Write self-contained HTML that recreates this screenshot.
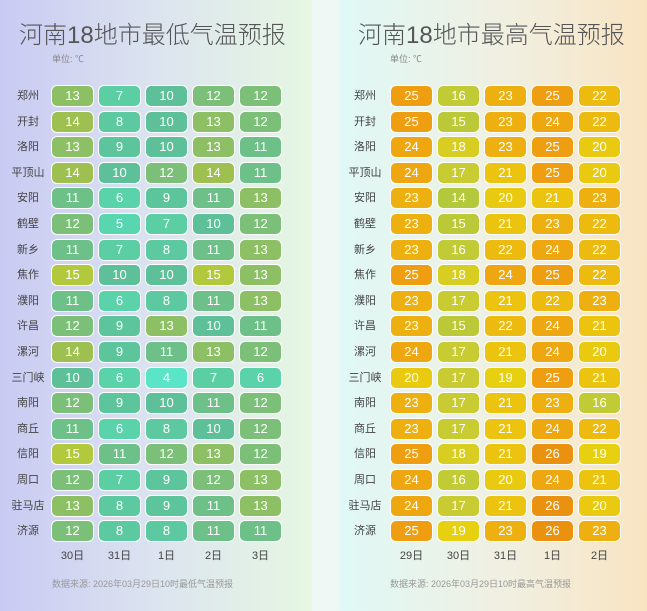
<!DOCTYPE html>
<html><head><meta charset="utf-8"><style>
html,body{margin:0;padding:0}
body{width:647px;height:611px;position:relative;overflow:hidden;font-family:"Liberation Sans","Noto Sans CJK SC",sans-serif}
.panel{position:absolute;top:0;height:611px}
#left{left:0;width:312px;background:linear-gradient(90deg,#c9caf3 0%,#dce4ef 50%,#e6f7e2 100%)}
#right{left:312px;width:335px;background:linear-gradient(90deg,#f0f8f5 0px,#f0f8f5 24px,#e0f8f6 30px,#f1efe0 60%,#f9e4c2 100%)}
.title{position:absolute;top:15px;font-size:24px;color:#555;white-space:nowrap;font-weight:300}
.unit{position:absolute;top:52px;font-size:9px;color:#888}
.cell{position:absolute;width:41px;height:20px;border:1.5px solid #fff;border-radius:6px;color:#fff;font-size:13px;line-height:20px;text-align:center}
.lab{position:absolute;font-size:11px;color:#444;text-align:center;width:50px}
.date{position:absolute;font-size:11px;color:#444;text-align:center;width:43px}
.foot{position:absolute;top:577px;font-size:9px;color:#999;white-space:nowrap}
</style></head><body>
<div id="left" class="panel">
<div class="title" style="left:19px">河南18地市最低气温预报</div>
<div class="unit" style="left:52px">单位: ℃</div>
<div class="foot" style="left:52px">数据来源: 2026年03月29日10时最低气温预报</div>
</div>
<div id="right" class="panel">
<div class="title" style="left:46px">河南18地市最高气温预报</div>
<div class="unit" style="left:78px">单位: ℃</div>
<div class="foot" style="left:78px">数据来源: 2026年03月29日10时最高气温预报</div>
</div>
<script>
const cities=["郑州","开封","洛阳","平顶山","安阳","鹤壁","新乡","焦作","濮阳","许昌","漯河","三门峡","南阳","商丘","信阳","周口","驻马店","济源"];
const lowDates=["30日","31日","1日","2日","3日"];
const highDates=["29日","30日","31日","1日","2日"];
const lowVals=[[13,7,10,12,12],[14,8,10,13,12],[13,9,10,13,11],[14,10,12,14,11],[11,6,9,11,13],[12,5,7,10,12],[11,7,8,11,13],[15,10,10,15,13],[11,6,8,11,13],[12,9,13,10,11],[14,9,11,13,12],[10,6,4,7,6],[12,9,10,11,12],[11,6,8,10,12],[15,11,12,13,12],[12,7,9,12,13],[13,8,9,11,13],[12,8,8,11,11]];
const highVals=[[25,16,23,25,22],[25,15,23,24,22],[24,18,23,25,20],[24,17,21,25,20],[23,14,20,21,23],[23,15,21,23,22],[23,16,22,24,22],[25,18,24,25,22],[23,17,21,22,23],[23,15,22,24,21],[24,17,21,24,20],[20,17,19,25,21],[23,17,21,23,16],[23,17,21,24,22],[25,18,21,26,19],[24,16,20,24,21],[24,17,21,26,20],[25,19,23,26,23]];
const lowStops=[[4,[90,228,200]],[5,[88,214,176]],[7,[92,206,164]],[10,[94,192,152]],[12,[124,191,120]],[14,[158,192,80]],[15,[178,201,62]]];
const highStops=[[14,[180,200,60]],[17,[200,204,50]],[19,[230,208,16]],[21,[236,196,16]],[23,[237,176,16]],[25,[238,158,16]],[26,[234,146,16]]];
function color(v,st){if(v<=st[0][0])return 'rgb('+st[0][1]+')';for(let i=1;i<st.length;i++){if(v<=st[i][0]){const a=st[i-1],b=st[i],t=(v-a[0])/(b[0]-a[0]);return 'rgb('+a[1].map((c,k)=>Math.round(c+(b[1][k]-c)*t)).join(',')+')';}}return 'rgb('+st[st.length-1][1]+')';}
const rowY=i=>85+i*25.6, colX=j=>j*47;
function build(panel,vals,dates,stops,x0,labX,prefix){
  const p=document.getElementById(panel);
  cities.forEach((c,i)=>{
    const l=document.createElement('div');l.className='lab';l.textContent=c;
    
    
    l.style.left=(labX-25)+'px';l.style.top=(rowY(i)+2)+'px';p.appendChild(l);
    vals[i].forEach((v,j)=>{
      const d=document.createElement('div');d.className='cell';d.textContent=v;
      
      
      d.style.left=(x0+colX(j))+'px';d.style.top=rowY(i)+'px';d.style.background=color(v,stops);p.appendChild(d);
    });
  });
  dates.forEach((t,j)=>{
    const d=document.createElement('div');d.className='date';d.textContent=t;
    
    
    d.style.left=(x0+colX(j))+'px';d.style.top='547px';p.appendChild(d);
  });
}
build('left',lowVals,lowDates,lowStops,51,28,'low-temp');
build('right',highVals,highDates,highStops,78,53,'high-temp');
</script>
</body></html>
